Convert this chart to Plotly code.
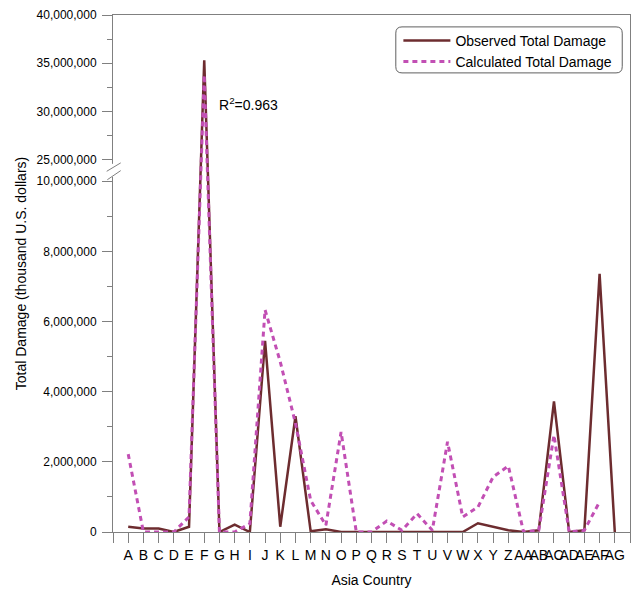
import plotly.graph_objects as go

# ---------------- data (thousand U.S. dollars) ----------------
categories = ["A", "B", "C", "D", "E", "F", "G", "H", "I", "J", "K", "L", "M",
              "N", "O", "P", "Q", "R", "S", "T", "U", "V", "W", "X", "Y", "Z",
              "AA", "AB", "AC", "AD", "AE", "AF", "AG"]

observed = [150000, 100000, 100000, 0, 150000, 35300000, 0, 210000, 0,
            5450000, 150000, 3300000, 20000, 80000, 0, 0, 0, 0, 0, 0, 0, 0, 0,
            250000, 150000, 50000, 0, 50000, 3720000, 0, 50000, 7360000, 0]

calculated = [2220000, 0, 0, 0, 430000, 33800000, 0, 0, 240000,
              6330000, 4850000, 3100000, 900000, 190000, 2850000, 0, 0, 310000,
              50000, 520000, 50000, 2570000, 430000, 710000, 1570000, 1880000,
              0, 50000, 2760000, 0, 50000, 860000, None]

lower_ticks = [0, 2000000, 4000000, 6000000, 8000000, 10000000]
upper_ticks = [25000000, 30000000, 35000000, 40000000]
lower_minor = [1000000, 3000000, 5000000, 7000000, 9000000]
upper_minor = [27500000, 32500000, 37500000]

r2_text = "R<sup>2</sup>=0.963"

# ---------------- broken-axis scale ----------------
LOW_MAX = 10000000
HIGH_MIN = 25000000
HIGH_MAX = 40000000
GAP = 0.613            # gap between the two segments (in lower-segment millions)
UPPER_FACTOR = 0.2748  # compression of the upper segment


def scale(v):
    if v is None:
        return None
    if v <= LOW_MAX:
        return v / 1e6
    return LOW_MAX / 1e6 + GAP + (v - HIGH_MIN) / 1e6 * UPPER_FACTOR


def fmt(v):
    return f"{v:,}"


x_pos = list(range(1, len(categories) + 1))
x_max = len(categories) + 1

maroon = "#6D2C2F"
magenta = "#C24FB4"
axis_grey = "#808080"
font_family = "Arial, Liberation Sans, sans-serif"

fig = go.Figure()
fig.add_trace(go.Scatter(
    x=x_pos, y=[scale(v) for v in observed], mode="lines",
    name="Observed Total Damage",
    line=dict(color=maroon, width=2.5), connectgaps=False))
fig.add_trace(go.Scatter(
    x=x_pos, y=[scale(v) for v in calculated], mode="lines",
    name="Calculated Total Damage",
    line=dict(color=magenta, width=3, dash="5px,4px"), connectgaps=False))

tickvals = [scale(v) for v in lower_ticks + upper_ticks]
ticktext = [fmt(v) for v in lower_ticks + upper_ticks]

fig.update_layout(
    width=636, height=589,
    margin=dict(l=113, r=6, t=15, b=57, pad=0, autoexpand=False),
    paper_bgcolor="white", plot_bgcolor="white",
    font=dict(family=font_family, size=14, color="black"),
    showlegend=True,
    legend=dict(x=0.552, y=0.981, xanchor="left", yanchor="top",
                bgcolor="rgba(0,0,0,0)", borderwidth=0,
                font=dict(size=14), itemwidth=47, tracegroupgap=0),
    xaxis=dict(
        range=[0, x_max], tickmode="array",
        tickvals=x_pos, ticktext=categories, tickangle=0,
        showline=True, linecolor=axis_grey, linewidth=1, mirror=True,
        ticks="outside", ticklen=10, tickcolor=axis_grey, tickwidth=1,
        minor=dict(tickmode="array", tickvals=[0, x_max], ticks="outside",
                   ticklen=10, tickcolor=axis_grey, tickwidth=1, showgrid=False),
        showgrid=False, zeroline=False, automargin=False,
        tickfont=dict(size=14),
        title=dict(text="Asia Country", font=dict(size=14), standoff=13)),
    yaxis=dict(
        range=[0, scale(HIGH_MAX)], tickmode="array",
        tickvals=tickvals, ticktext=ticktext,
        showline=True, linecolor=axis_grey, linewidth=1, mirror=True,
        ticks="outside", ticklen=10, tickcolor=axis_grey, tickwidth=1,
        minor=dict(tickmode="array",
                   tickvals=[scale(v) for v in lower_minor + upper_minor],
                   ticks="outside", ticklen=5, tickcolor=axis_grey, tickwidth=1,
                   showgrid=False),
        showgrid=False, zeroline=False, automargin=False,
        tickfont=dict(size=12), ticklabelstandoff=3,
        title=dict(text="Total Damage (thousand U.S. dollars)",
                   font=dict(size=14), standoff=6)),
)

# axis-break marks
ybreak_lo = scale(LOW_MAX)
ybreak_hi = scale(HIGH_MIN)
fig.add_shape(type="rect", xref="paper", yref="y",
              x0=-0.005, x1=0.005, y0=ybreak_lo + 0.12, y1=ybreak_hi - 0.12,
              fillcolor="white", line=dict(width=0), layer="above")
fig.add_shape(type="line", xref="paper", yref="y",
              x0=-0.0122, x1=0.0149, y0=ybreak_lo + 0.28, y1=ybreak_lo + 0.52,
              line=dict(color=axis_grey, width=1), layer="above")
fig.add_shape(type="line", xref="paper", yref="y",
              x0=-0.0110, x1=0.0149, y0=ybreak_lo + 0.04, y1=ybreak_lo + 0.30,
              line=dict(color=axis_grey, width=1), layer="above")

# rounded legend frame
x0, x1, y0, y1, r = 0.547, 0.985, 0.888, 0.977, 0.012
path = (f"M{x0 + r},{y1} L{x1 - r},{y1} Q{x1},{y1} {x1},{y1 - r} "
        f"L{x1},{y0 + r} Q{x1},{y0} {x1 - r},{y0} L{x0 + r},{y0} "
        f"Q{x0},{y0} {x0},{y0 + r} L{x0},{y1 - r} Q{x0},{y1} {x0 + r},{y1} Z")
fig.add_shape(type="path", xref="paper", yref="paper", path=path,
              fillcolor="white", line=dict(color="#606060", width=1), layer="above")

fig.add_annotation(x=6.85, y=scale(30800000), xref="x", yref="y",
                   text=r2_text, showarrow=False, xanchor="left",
                   font=dict(size=14, family=font_family, color="black"))

fig.write_html("out.html")
